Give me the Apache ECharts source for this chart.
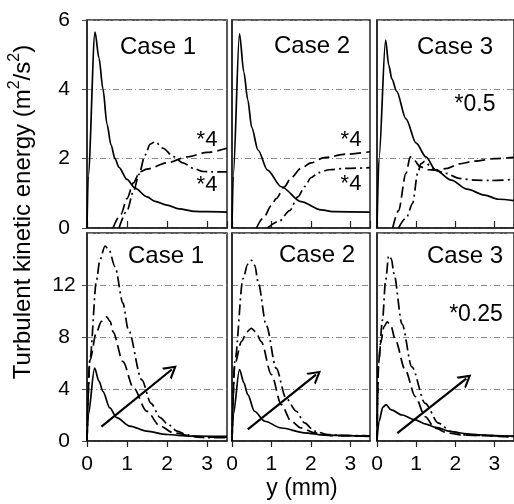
<!DOCTYPE html>
<html>
<head>
<meta charset="utf-8">
<script src="https://cdn.jsdelivr.net/npm/echarts@6/dist/echarts.min.js"></script>
<style>
html,body{margin:0;padding:0;background:#fff;}
#chart{width:514px;height:504px;}
</style>
</head>
<body>
<div id="chart"></div>
<script>
// ---------- data (x in mm, y = turbulent kinetic energy) ----------
var xTicks = [0, 1, 2, 3];
var topYTicks = [0, 2, 4, 6];
var bottomYTicks = [0, 4, 8, 12];
var caseNames = ['Case 1', 'Case 2', 'Case 3'];

var topCase1Solid = [[0,0],[0.03,1.5],[0.2,5.65],[0.3,4.9],[0.4,4.0],[0.5,3.0],[0.6,2.4],[0.7,2.0],[0.8,1.75],[1.0,1.4],[1.2,1.15],[1.5,0.9],[1.7,0.77],[2.0,0.66],[2.3,0.55],[2.7,0.48],[3.0,0.47],[3.5,0.46]];
var topCase1Dash  = [[0.65,0],[0.85,0.4],[1.0,0.85],[1.16,1.3],[1.32,1.62],[1.5,1.7],[2.0,1.88],[2.5,2.05],[3.0,2.18],[3.5,2.3]];
var topCase1DashDot = [[0.8,0],[1.0,0.5],[1.16,1.05],[1.3,1.55],[1.45,2.1],[1.58,2.42],[1.7,2.49],[1.9,2.3],[2.16,2.06],[2.4,1.88],[2.66,1.72],[2.9,1.63],[3.1,1.62],[3.5,1.62]];

var topCase2Solid = [[0,0],[0.03,1.5],[0.19,5.6],[0.3,4.5],[0.4,3.7],[0.5,2.9],[0.66,2.25],[0.9,1.67],[1.25,1.19],[1.75,0.76],[2.26,0.52],[2.6,0.47],[3.5,0.46]];
var topCase2Dash  = [[0.62,0],[0.8,0.3],[1.0,0.65],[1.12,0.85],[1.33,1.19],[1.5,1.45],[1.75,1.72],[2.0,1.88],[2.34,2.03],[2.9,2.13],[3.5,2.2]];
var topCase2DashDot = [[0.9,0],[1.2,0.2],[1.46,0.5],[1.67,0.9],[1.85,1.2],[2.0,1.45],[2.2,1.6],[2.47,1.68],[2.9,1.72],[3.5,1.74]];

var topCase3Solid = [[0,0],[0.05,2.0],[0.22,5.42],[0.3,4.7],[0.38,4.3],[0.5,3.95],[0.74,3.15],[1.0,2.45],[1.25,2.05],[1.5,1.67],[1.9,1.38],[2.3,1.12],[2.75,0.95],[3.1,0.83],[3.5,0.79]];
var topCase3Dash  = [[0.4,0],[0.55,0.5],[0.74,1.58],[0.85,2.05],[0.95,1.95],[1.1,1.77],[1.3,1.68],[1.5,1.67],[1.8,1.72],[2.1,1.85],[2.5,1.93],[3.0,2.0],[3.5,2.04]];
var topCase3DashDot = [[0.55,0],[0.75,0.3],[0.91,0.71],[1.04,1.58],[1.12,1.85],[1.22,1.92],[1.35,1.8],[1.5,1.66],[1.75,1.58],[2.1,1.43],[2.5,1.38],[2.9,1.37],[3.5,1.4]];

var botCase1Solid = [[0,0],[0.03,2],[0.19,5.6],[0.3,4.6],[0.4,3.8],[0.57,2.55],[0.74,1.8],[1.07,1.15],[1.49,0.76],[2.0,0.5],[2.58,0.38],[3.5,0.35]];
var botCase1Dash  = [[0,0],[0.07,6.2],[0.24,8.4],[0.36,9.2],[0.49,9.55],[0.58,9.2],[0.65,8.4],[0.9,6.1],[1.16,4.1],[1.49,2.3],[1.83,1.14],[2.16,0.63],[2.66,0.37],[3.0,0.3],[3.5,0.3]];
var botCase1DashDot = [[0,0],[0.07,6.2],[0.24,12.4],[0.32,13.9],[0.45,15.0],[0.55,14.7],[0.7,13.4],[0.9,10.6],[1.03,8.6],[1.37,4.7],[1.6,2.9],[1.83,1.8],[2.0,1.35],[2.25,0.76],[2.5,0.48],[2.75,0.3],[3.0,0.25],[3.5,0.25]];

var botCase2Solid = [[0,0],[0.03,2],[0.19,5.5],[0.3,4.5],[0.4,3.56],[0.57,2.29],[0.83,1.52],[1.25,1.0],[1.84,0.63],[2.34,0.45],[3.5,0.35]];
var botCase2Dash  = [[0,0],[0.07,5.9],[0.24,7.65],[0.38,8.4],[0.49,8.67],[0.6,8.4],[0.74,7.65],[1.0,5.1],[1.25,2.8],[1.5,1.52],[1.75,1.01],[2.09,0.63],[2.5,0.42],[3.5,0.38]];
var botCase2DashDot = [[0,0],[0.07,6.1],[0.28,12.5],[0.4,13.6],[0.49,13.9],[0.58,13.5],[0.66,12.25],[0.87,8.9],[1.12,5.6],[1.37,3.3],[1.63,2.29],[1.84,1.4],[2.09,0.76],[2.42,0.5],[2.8,0.42],[3.5,0.4]];

var botCase3Solid = [[0,0],[0.05,1.5],[0.15,2.6],[0.23,2.8],[0.35,2.42],[0.64,2.0],[0.95,1.65],[1.25,1.3],[1.5,1.05],[1.9,0.72],[2.3,0.55],[2.6,0.48],[3.0,0.42],[3.5,0.38]];
var botCase3Dash  = [[0,0],[0.04,6],[0.09,7.5],[0.18,8.8],[0.26,9.16],[0.35,8.9],[0.47,7.75],[0.72,5.46],[0.98,3.41],[1.23,1.88],[1.48,0.99],[1.82,0.6],[2.2,0.45],[3.5,0.3]];
var botCase3DashDot = [[0,0],[0.04,6],[0.14,9.3],[0.22,12.35],[0.3,14.27],[0.37,14.0],[0.43,12.9],[0.64,9.0],[0.89,5.7],[1.23,2.9],[1.57,1.37],[1.9,0.73],[2.3,0.45],[3.5,0.35]];

// arrows (start, end) in data coordinates
var arrowCase1 = [[0.36,1.1],[2.12,5.5]];
var arrowCase2 = [[0.40,0.9],[2.13,5.1]];
var arrowCase3 = [[0.52,0.6],[2.28,4.8]];

// ---------- chart ----------
var FONT = 'Liberation Sans, Arial, sans-serif';
var chart = echarts.init(document.getElementById('chart'), null, {renderer:'canvas'});

var lefts = [87, 232, 377];
var widths = [140, 138, 139];
var grids = [];
for (var r = 0; r < 2; r++) {
  for (var c = 0; c < 3; c++) {
    grids.push({left: lefts[c], width: widths[c], top: r === 0 ? 20 : 233, height: 208,
      show: true, borderColor: '#222', borderWidth: 1.5, backgroundColor: 'transparent'});
  }
}

var xAxes = [], yAxes = [];
for (var i = 0; i < 6; i++) {
  var isTop = i < 3, col = i % 3;
  xAxes.push({
    type: 'value', gridIndex: i, min: 0, max: 3.5, interval: 1,
    axisLine: {show: true, onZero: false, lineStyle: {color: '#222', width: 1.5}},
    axisTick: {show: true, inside: isTop, length: isTop ? 7 : 6, lineStyle: {color: '#222', width: 1.2}},
    axisLabel: {show: !isTop, showMaxLabel: false, fontSize: 21, color: '#000', fontFamily: FONT, margin: 13},
    splitLine: {show: false}
  });
  yAxes.push({
    type: 'value', gridIndex: i, min: 0, max: isTop ? 6 : 16, interval: isTop ? 2 : 4,
    axisLine: {show: true, lineStyle: {color: '#222', width: 1.5}},
    axisTick: {show: col === 0, length: 5, lineStyle: {color: '#444'}},
    axisLabel: {show: col === 0, showMaxLabel: isTop, fontSize: 21, color: '#000', fontFamily: FONT, align: 'center', margin: 23},
    splitLine: {show: true, lineStyle: {color: '#8a8a8a', width: 1, type: [6,3,1,3]}}
  });
}

var panelData = [
  [topCase1Solid, topCase1Dash, topCase1DashDot],
  [topCase2Solid, topCase2Dash, topCase2DashDot],
  [topCase3Solid, topCase3Dash, topCase3DashDot],
  [botCase1Solid, botCase1Dash, botCase1DashDot],
  [botCase2Solid, botCase2Dash, botCase2DashDot],
  [botCase3Solid, botCase3Dash, botCase3DashDot]
];
var arrows = [null, null, null, arrowCase1, arrowCase2, arrowCase3];
var styles = ['solid', [11,5], [11,4,2,4]];

var arrowHead = 'path://M5,0 L10,10 L8.4,10 L5,3.2 L1.6,10 L0,10 Z';
var series = [];
for (var p = 0; p < 6; p++) {
  for (var s = 0; s < 3; s++) {
    var ser = {
      type: 'line', xAxisIndex: p, yAxisIndex: p, data: panelData[p][s],
      showSymbol: false, symbol: 'none', smooth: 0.3, smoothMonotone: 'x',
      lineStyle: {color: '#000', width: 1.7, type: styles[s]},
      animation: false, silent: true, z: 3
    };
    if (s === 0 && arrows[p]) {
      ser.markLine = {
        silent: true, animation: false,
        symbol: ['none', arrowHead], symbolSize: [15, 13],
        label: {show: false},
        lineStyle: {color: '#000', width: 2.2, type: 'solid'},
        data: [[{coord: arrows[p][0]}, {coord: arrows[p][1]}]]
      };
    }
    series.push(ser);
  }
}

function txt(x, y, t, size) {
  return {type: 'text', x: x, y: y, silent: true, z: 10,
    style: {text: t, fill: '#000', font: size + 'px ' + FONT, textAlign: 'center', textVerticalAlign: 'middle'}};
}

var graphics = [
  txt(158, 47, caseNames[0], 24), txt(312, 46, caseNames[1], 24), txt(455, 47, caseNames[2], 24),
  txt(166, 256, caseNames[0], 24), txt(317, 255, caseNames[1], 24), txt(465, 256, caseNames[2], 24),
  txt(207, 140, '*4', 22), txt(207, 185, '*4', 22),
  txt(351, 140, '*4', 22), txt(351, 184, '*4', 22),
  txt(475, 105, '*0.5', 23), txt(476, 315, '*0.25', 23),
  txt(302, 489, 'y (mm)', 23),
  {type: 'text', x: 21, y: 212, rotation: Math.PI / 2, silent: true, z: 10,
   style: {
     text: '{a|Turbulent kinetic energy (m}{s|2}{a|/s}{s|2}{a|)}',
     textAlign: 'center', textVerticalAlign: 'middle',
     rich: {
       a: {fontSize: 24, fontFamily: FONT, fill: '#000', color: '#000', lineHeight: 28, verticalAlign: 'bottom'},
       s: {fontSize: 16, fontFamily: FONT, fill: '#000', color: '#000', lineHeight: 28, verticalAlign: 'top'}
     }
   }}
];

chart.setOption({
  animation: false,
  backgroundColor: '#fff',
  grid: grids,
  xAxis: xAxes,
  yAxis: yAxes,
  series: series,
  graphic: graphics
});
</script>
</body>
</html>
